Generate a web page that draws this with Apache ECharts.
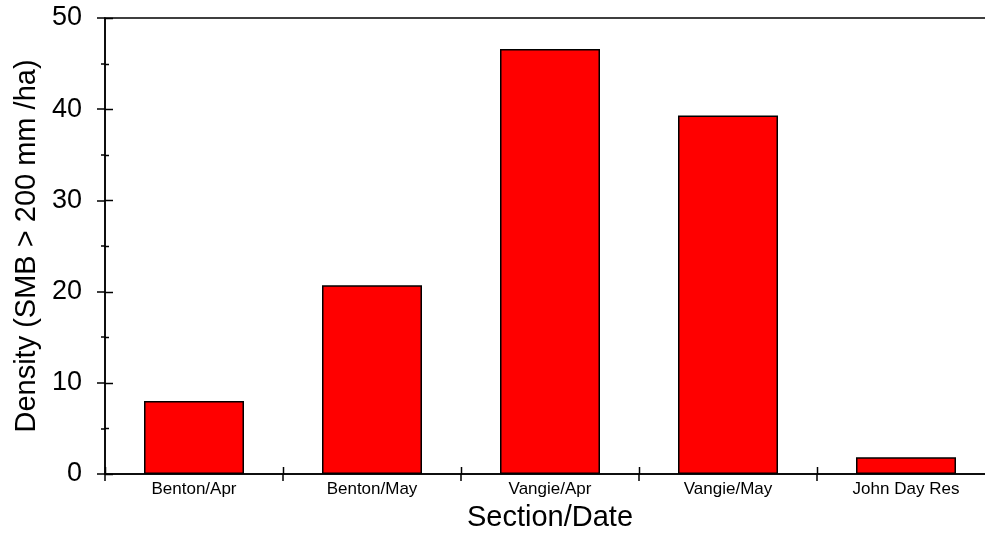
<!DOCTYPE html>
<html>
<head>
<meta charset="utf-8">
<script src="https://cdn.jsdelivr.net/npm/echarts@6/dist/echarts.min.js"></script>
<style>
  html, body { margin: 0; padding: 0; background: #fff; }
  #chart { width: 985px; height: 535px; }
</style>
</head>
<body>
<div id="chart"></div>
<script>
// Sampling sections / dates and fish density
const categories = ['Benton/Apr', 'Benton/May', 'Vangie/Apr', 'Vangie/May', 'John Day Res'];
const density = [8.0, 20.7, 46.6, 39.3, 1.85];
const yTicks = [0, 10, 20, 30, 40, 50];

const FONT = '"Liberation Sans", Arial, Helvetica, sans-serif';
const black = '#000';
const lineW = 1.5;

const chart = echarts.init(document.getElementById('chart'));

const axisLineStyle = { show: true, onZero: false, lineStyle: { color: black, width: lineW } };

chart.setOption({
  animation: false,
  backgroundColor: '#fff',
  // plot frame; the right edge runs a little past the window
  grid: {
    left: 105, top: 18, right: -10, bottom: 61,
    containLabel: false,
    outerBoundsMode: 'none',
    show: true,
    borderColor: black,
    borderWidth: lineW,
    backgroundColor: 'transparent'
  },
  xAxis: {
    type: 'category',
    data: categories,
    position: 'bottom',
    boundaryGap: true,
    axisLine: axisLineStyle,
    axisTick: { show: true, inside: false, length: 7, lineStyle: { color: black, width: lineW } },
    axisLabel: { show: true, color: black, fontFamily: FONT, fontSize: 17, margin: 7 },
    name: 'Section/Date',
    nameLocation: 'middle',
    nameGap: 29,
    nameTextStyle: { color: black, fontFamily: FONT, fontSize: 29 }
  },
  yAxis: {
    type: 'value',
    min: yTicks[0],
    max: yTicks[yTicks.length - 1],
    interval: yTicks[1] - yTicks[0],
    position: 'left',
    splitLine: { show: false },
    axisLine: axisLineStyle,
    axisTick: { show: true, inside: false, length: 8, lineStyle: { color: black, width: lineW } },
    minorTick: { show: true, splitNumber: 2, length: 4, lineStyle: { color: black, width: lineW } },
    axisLabel: { show: true, color: black, fontFamily: FONT, fontSize: 27, margin: 23 },
    name: 'Density (SMB > 200 mm /ha)',
    nameLocation: 'middle',
    nameGap: 60,
    nameRotate: 90,
    nameTextStyle: { color: black, fontFamily: FONT, fontSize: 29 }
  },
  series: [
    {
      name: 'Density',
      type: 'bar',
      data: density,
      barWidth: 100,
      itemStyle: { color: '#ff0000', borderColor: black, borderWidth: lineW }
    }
  ]
});

// Inward halves of the axis ticks, so each tick crosses its axis line.
// Positions come from the chart's own axes.
try {
  const c0 = chart.convertToPixel({ xAxisIndex: 0 }, 0);
  const c1 = chart.convertToPixel({ xAxisIndex: 0 }, 1);
  const band = c1 - c0;
  const xLeft = c0 - band / 2;
  const yBottom = chart.convertToPixel({ yAxisIndex: 0 }, yTicks[0]);
  const tickStyle = { stroke: black, lineWidth: lineW };
  const marks = [];

  const step = (yTicks[1] - yTicks[0]) / 2;
  for (let v = yTicks[0]; v <= yTicks[yTicks.length - 1] + 1e-9; v += step) {
    const y = Math.round(chart.convertToPixel({ yAxisIndex: 0 }, v)) + 0.5;
    const major = yTicks.indexOf(v) >= 0;
    marks.push({
      type: 'line', silent: true, z: 10,
      shape: { x1: xLeft, y1: y, x2: xLeft + (major ? 8 : 4), y2: y },
      style: tickStyle
    });
  }
  for (let i = 0; i <= categories.length; i++) {
    const x = Math.round(xLeft + band * i) + 0.5;
    marks.push({
      type: 'line', silent: true, z: 10,
      shape: { x1: x, y1: yBottom, x2: x, y2: yBottom - 7 },
      style: tickStyle
    });
  }
  chart.setOption({ graphic: { elements: marks } });
} catch (e) {
  console.error(e);
}
</script>
</body>
</html>
